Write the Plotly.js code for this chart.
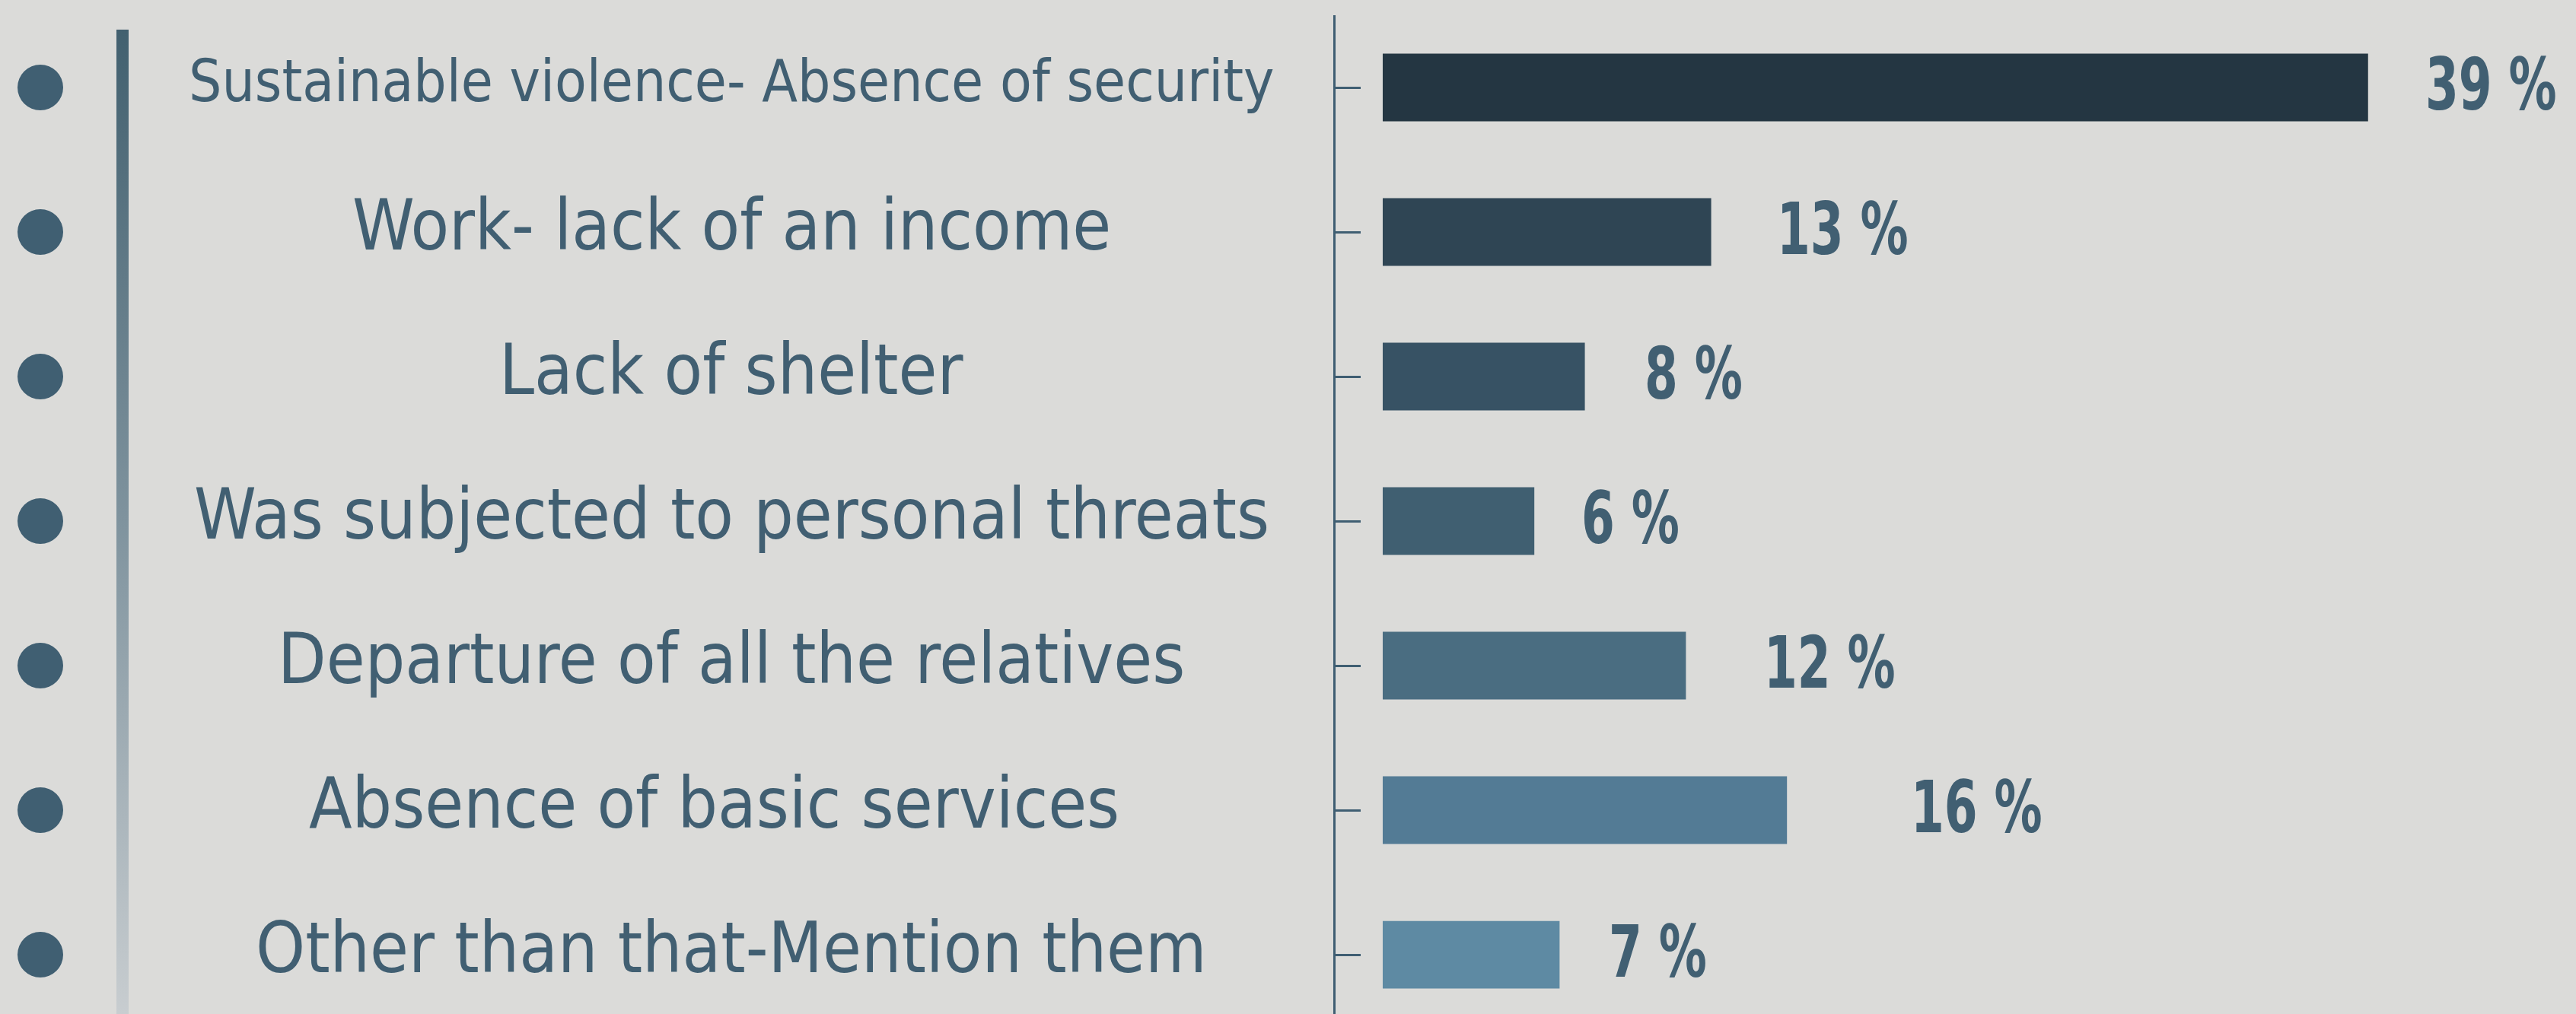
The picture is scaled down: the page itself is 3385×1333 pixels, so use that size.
<!DOCTYPE html>
<html>
<head>
<meta charset="utf-8">
<script src="https://cdn.plot.ly/plotly-3.0.1.min.js"></script>
<style>
  html, body { margin: 0; padding: 0; background: #dbdbd9; }
  #chart { width: 3385px; height: 1333px; }
</style>
</head>
<body>
<div id="chart"></div>
<script>
// ---- Data ----
const categories = [
  "Sustainable violence- Absence of security",
  "Work- lack of an income",
  "Lack of shelter",
  "Was subjected to personal threats",
  "Departure of all the relatives",
  "Absence of basic services",
  "Other than that-Mention them"
];
const values = [39, 13, 8, 6, 12, 16, 7];
const valueLabels = ["39 %", "13 %", "8 %", "6 %", "12 %", "16 %", "7 %"];

// ---- Styling ----
const W = 3385, H = 1333;
const barColors = ["#243642", "#2f4554", "#375264", "#405f71", "#4a6d81", "#537b95", "#5e8aa3"];
const textColor = "#415f72";
const labelFont = "'Liberation Sans Narrow', 'DejaVu Sans Condensed', 'Arial Narrow', sans-serif";
const labelSizes = [76, 92, 92, 92, 92, 92, 92];
const labelCenterPx = [961, 961, 961, 961, 961, 938, 961];
const valueGap = [74, 85, 77, 61, 102, 162, 64];
const valueFontSize = 70;      // horizontal size of the percentage face
const valueStretchY = 94 / 70; // tall, narrow display look

const axisLeftPx = 1755;

const trace = {
  type: "bar",
  orientation: "h",
  y: categories,
  x: values,
  marker: { color: barColors, line: { width: 0 } },
  hoverinfo: "none",
  cliponaxis: false
};

const annotations = [];
categories.forEach((c, i) => {
  annotations.push({
    xref: "paper", yref: "y",
    x: labelCenterPx[i] / W, y: c,
    xanchor: "center", yanchor: "middle",
    yshift: 9,
    text: c, showarrow: false,
    font: { family: labelFont, size: labelSizes[i], color: textColor }
  });
  annotations.push({
    xref: "x", yref: "y",
    x: values[i], y: c,
    xanchor: "left", yanchor: "middle", align: "left",
    xshift: valueGap[i], yshift: 4,
    borderpad: 0,
    text: valueLabels[i], showarrow: false,
    font: { family: labelFont, size: valueFontSize, color: textColor, weight: 700 }
  });
});

const shapes = [];
categories.forEach((c, i) => {
  shapes.push({
    type: "circle", xref: "paper", yref: "y",
    x0: 23 / W, x1: 83 / W,
    y0: i - 0.158, y1: i + 0.158,
    fillcolor: "#405f72", line: { width: 0 }, layer: "above"
  });
});

const gradSvg = '<svg xmlns="http://www.w3.org/2000/svg" width="16" height="1314" preserveAspectRatio="none">' +
  '<defs><linearGradient id="g" x1="0" y1="0" x2="0" y2="1">' +
  '<stop offset="0" stop-color="#42606f"/><stop offset="0.5" stop-color="#7f939e"/><stop offset="1" stop-color="#c8cdd0"/>' +
  '</linearGradient></defs><rect width="16" height="1314" fill="url(#g)"/></svg>';

const layout = {
  width: W, height: H,
  margin: { l: 0, r: 0, t: 20, b: 0, pad: 0 },
  paper_bgcolor: "#dbdbd9",
  plot_bgcolor: "rgba(0,0,0,0)",
  showlegend: false,
  bargap: 0.532,
  xaxis: {
    domain: [axisLeftPx / W, 1],
    range: [-1.867, 47.23],
    showgrid: false, zeroline: false, showline: false,
    showticklabels: false, ticks: ""
  },
  yaxis: {
    type: "category",
    range: [6.41, -0.5],
    showgrid: false, zeroline: false,
    showline: true, linecolor: "#3f5e72", linewidth: 3,
    ticks: "inside", ticklen: 33, tickwidth: 3, tickcolor: "#3f5e72",
    showticklabels: false
  },
  annotations: annotations,
  shapes: shapes,
  images: [{
    source: "data:image/svg+xml;charset=utf-8," + encodeURIComponent(gradSvg),
    xref: "paper", yref: "paper",
    x: 153 / W, y: 1 - 19 / H,
    sizex: 16 / W, sizey: 1314 / H,
    xanchor: "left", yanchor: "top",
    sizing: "stretch", layer: "above"
  }]
};

Plotly.newPlot("chart", [trace], layout, { staticPlot: true, displayModeBar: false }).then(gd => {
  // stretch the bold percentage labels vertically around their cap-height middle
  gd.querySelectorAll("text.annotation-text").forEach(t => {
    if (valueLabels.indexOf(t.textContent.trim()) >= 0) {
      const y = parseFloat(t.getAttribute("y"));
      if (isNaN(y)) return;
      const yc = y - 0.3645 * valueFontSize;
      const s = valueStretchY;
      t.setAttribute("transform", "translate(0," + (yc * (1 - s)).toFixed(2) + ") scale(1," + s.toFixed(4) + ")");
    }
  });
});
</script>
</body>
</html>
